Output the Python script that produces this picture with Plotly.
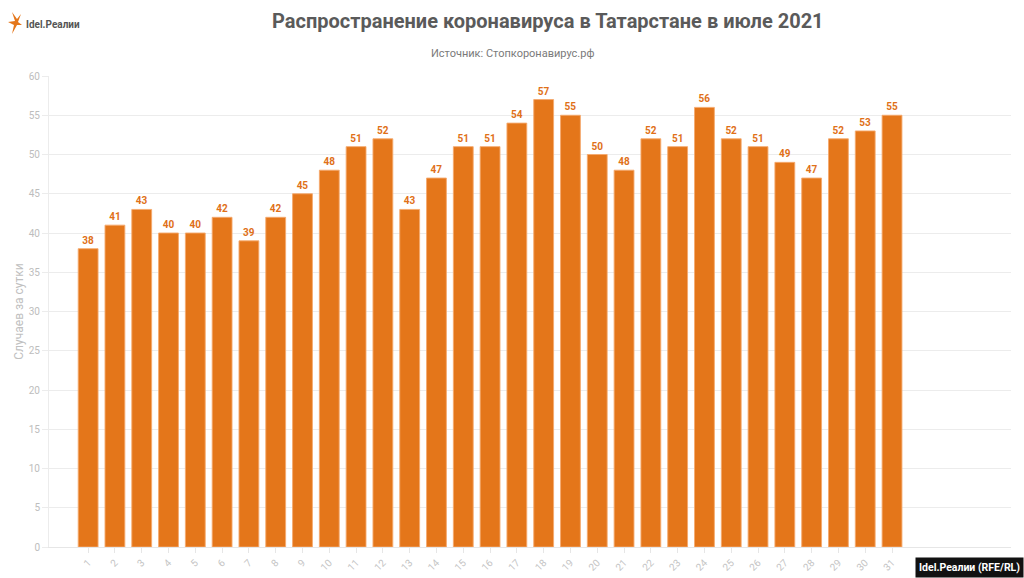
import plotly.graph_objects as go

days = list(range(1, 32))
cases = [38, 41, 43, 40, 40, 42, 39, 42, 45, 48, 51, 52, 43, 47, 51, 51, 54, 57, 55, 50,
         48, 52, 51, 56, 52, 51, 49, 47, 52, 53, 55]
title = "Распространение коронавируса в Татарстане в июле 2021"
subtitle = "Источник: Стопкоронавирус.рф"
y_title = "Случаев за сутки"
credit = "Idel.Реалии (RFE/RL)"
logo_text = "Idel.Реалии"

orange = "#E4761A"
W, H, L, R, T, B = 1024, 578, 49, 13, 76, 31
PW, PH = W - L - R, H - T - B

def px(p):
    return (p - L) / PW

def py(p):
    return (H - p - B) / PH

fig = go.Figure()
fig.add_trace(go.Bar(
    x=days, y=cases, width=0.74,
    marker=dict(color=orange, line=dict(color="rgba(245,170,110,0.9)", width=1)),
    text=[str(v) for v in cases], textposition="outside",
    textfont=dict(family="Roboto", size=10, color="#E07018", weight="bold"),
    cliponaxis=False,
))

fig.update_layout(
    width=W, height=H,
    margin=dict(l=L, r=R, t=T, b=B),
    paper_bgcolor="white", plot_bgcolor="white",
    showlegend=False,
    font=dict(family="Roboto"),
    title=dict(text=f"<b>{title}</b>", x=0.535, xanchor="center", y=0.975, yanchor="top",
               font=dict(family="Roboto", size=20, color="#5a5a5a")),
    xaxis=dict(
        range=[-0.46, 35.44], tickmode="array", tickvals=days, ticktext=[str(d) for d in days],
        tickangle=-45, tickfont=dict(size=10, color="#c4c4c4"), automargin=False,
        showgrid=False, showline=True, linecolor="#e6e6e6", linewidth=1,
        ticks="outside", ticklen=5, tickcolor="#e6e6e6", zeroline=False,
    ),
    yaxis=dict(
        range=[0, 60], dtick=5, tickfont=dict(size=10, color="#bdbdbd"), automargin=False,
        showgrid=True, gridcolor="#ececec", gridwidth=1,
        showline=True, linecolor="#ececec", linewidth=1,
        ticks="outside", ticklen=6, tickcolor="#ececec", zeroline=False,
        title=dict(text=y_title, font=dict(size=12, color="#c0c0c0"), standoff=2),
    ),
    annotations=[
        dict(text=subtitle, x=px(512), xanchor="center", y=py(53), yanchor="middle",
             xref="paper", yref="paper", showarrow=False,
             font=dict(family="Roboto", size=11, color="#7a7a7a")),
        dict(text=f"<b>{credit}</b>", x=px(W) - 0.0005, xanchor="right", y=py(H), yanchor="bottom",
             xref="paper", yref="paper", showarrow=False, bgcolor="#111111",
             font=dict(family="Roboto", size=10.5, color="white"), borderpad=3),
        dict(text=f"<b>{logo_text}</b>", x=px(24), xanchor="left", y=py(24), yanchor="middle",
             xref="paper", yref="paper", showarrow=False,
             font=dict(family="Roboto", size=10, color="#555555")),
    ],
)

# simple orange logo mark
fig.add_shape(type="path", xref="paper", yref="paper",
              path=f"M {px(12)} {py(12)} L {px(17)} {py(19)} L {px(21)} {py(14)} L {px(18)} {py(22)} "
                   f"L {px(22)} {py(25)} L {px(17)} {py(25)} L {px(12)} {py(34)} L {px(14)} {py(25)} "
                   f"L {px(8)} {py(22)} L {px(15)} {py(21)} Z",
              fillcolor=orange, line=dict(width=0))

fig.write_html("out.html")
